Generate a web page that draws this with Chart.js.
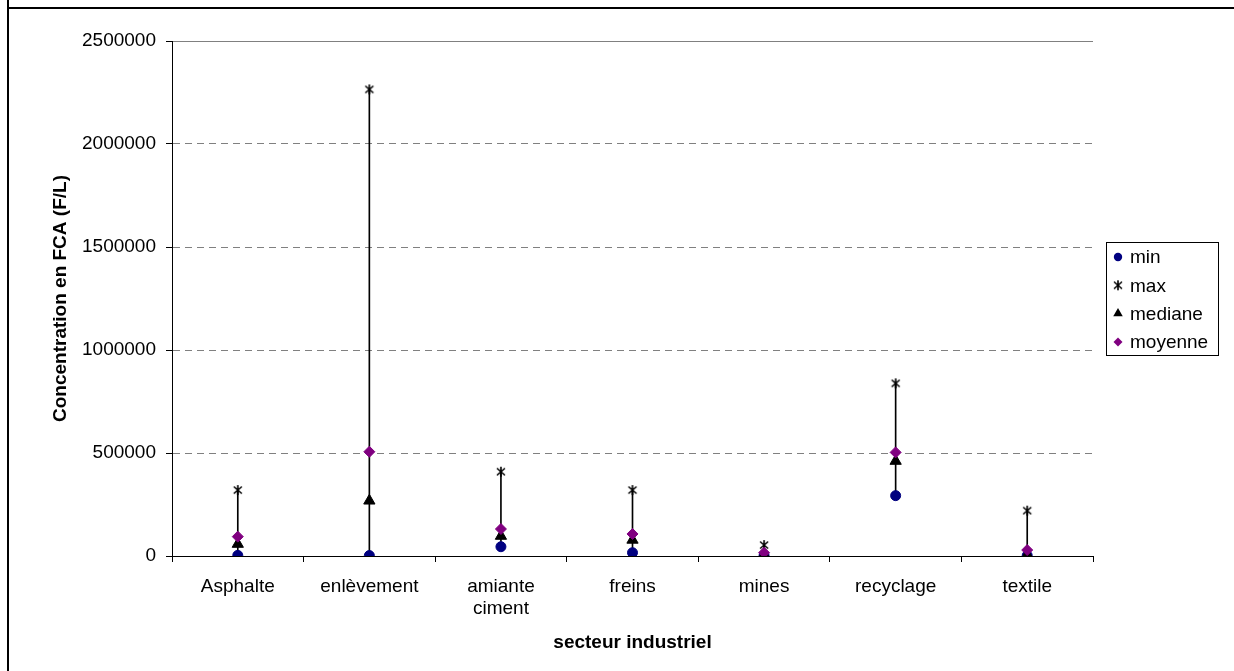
<!DOCTYPE html>
<html>
<head>
<meta charset="utf-8">
<script src="https://cdn.jsdelivr.net/npm/chart.js@4/dist/chart.umd.min.js"></script>
<style>
html, body { margin: 0; padding: 0; background: #fff; }
#wrap { position: relative; width: 1234px; height: 671px; overflow: hidden; }
#wrap canvas { position: absolute; left: 0; top: 0; }
.ln { position: absolute; background: #000; }
</style>
</head>
<body>
<div id="wrap">
  <div class="ln" style="left:7px;top:0;width:2px;height:671px"></div>
  <div class="ln" style="left:7px;top:7px;width:1227px;height:2px"></div>
  <canvas id="chart" width="1234" height="671"></canvas>
</div>
<script>
// data
var categories = ['Asphalte', 'enlèvement', ['amiante', 'ciment'], 'freins', 'mines', 'recyclage', 'textile'];
var minVals = [3000, 2000, 45000, 16000, 2000, 293000, 2000];
var maxVals = [320000, 2265000, 409000, 320000, 53000, 838000, 220000];
var medianeVals = [58000, 268000, 97000, 78000, 5000, 461000, 5000];
var moyenneVals = [94000, 506000, 131000, 107000, 16000, 503000, 29000];
var yTicks = [0, 500000, 1000000, 1500000, 2000000, 2500000];

var FONT = '"Liberation Sans", Arial, sans-serif';
Chart.defaults.font.family = FONT;
Chart.defaults.color = '#000';

// excel-like star marker: x with a vertical bar
function starMarker() {
  var c = document.createElement('canvas');
  c.width = 12; c.height = 12;
  var g = c.getContext('2d');
  g.strokeStyle = '#000';
  g.lineWidth = 1.6;
  g.beginPath();
  g.moveTo(2, 2.5); g.lineTo(10, 9.5);
  g.moveTo(10, 2.5); g.lineTo(2, 9.5);
  g.moveTo(6, 1); g.lineTo(6, 11);
  g.stroke();
  return c;
}
var star = starMarker();

function drawMarker(ctx, style, color, r, x, y) {
  ctx.fillStyle = color;
  ctx.beginPath();
  if (style === 'circle') {
    ctx.arc(x, y, r, 0, Math.PI * 2);
  } else if (style === 'triangle') {
    ctx.moveTo(x, y - r);
    ctx.lineTo(x + r * 0.866, y + r * 0.5);
    ctx.lineTo(x - r * 0.866, y + r * 0.5);
    ctx.closePath();
  } else if (style === 'rectRot') {
    ctx.moveTo(x, y - r); ctx.lineTo(x + r, y); ctx.lineTo(x, y + r); ctx.lineTo(x - r, y);
    ctx.closePath();
  } else {
    ctx.drawImage(style, x - style.width / 2, y - style.height / 2);
    return;
  }
  ctx.fill();
}

// legend box to the right of the plot
var legendBox = {
  id: 'legendBox',
  afterDraw: function (chart) {
    var ctx = chart.ctx, area = chart.chartArea;
    var w = 112, h = 113;
    var x0 = Math.round(area.right + 13), y0 = Math.round((area.top + area.bottom) / 2 - h / 2);
    ctx.save();
    ctx.strokeStyle = '#000';
    ctx.lineWidth = 1;
    ctx.strokeRect(x0 + 0.5, y0 + 0.5, w, h);
    ctx.font = '19px ' + FONT;
    ctx.textBaseline = 'middle';
    var legendSizes = { circle: 4.2, triangle: 5.5, rectRot: 4.5 };
    chart.data.datasets.forEach(function (ds, i) {
      if (ds.type !== 'line') return;
      var cy = y0 + 15 + i * 28.3;
      var r = legendSizes[ds.pointStyle] || 0;
      drawMarker(ctx, ds.pointStyle, ds.pointBackgroundColor || '#000', r, x0 + 12, cy);
      ctx.fillStyle = '#000';
      ctx.fillText(ds.label, x0 + 24, cy + 1);
    });
    ctx.restore();
  }
};

var ctx = document.getElementById('chart').getContext('2d');
var myChart = new Chart(ctx, {
  type: 'bar',
  data: {
    labels: categories,
    datasets: [
      {
        type: 'line', label: 'min', data: minVals, showLine: false,
        pointStyle: 'circle', pointRadius: 5,
        pointBackgroundColor: '#000080', pointBorderColor: '#000080', order: 4
      },
      {
        type: 'line', label: 'max', data: maxVals, showLine: false,
        pointStyle: star, pointRadius: 6, order: 3
      },
      {
        type: 'line', label: 'mediane', data: medianeVals, showLine: false,
        pointStyle: 'triangle', pointRadius: 6.5,
        pointBackgroundColor: '#000', pointBorderColor: '#000', order: 2
      },
      {
        type: 'line', label: 'moyenne', data: moyenneVals, showLine: false,
        pointStyle: 'rectRot', pointRadius: 5.5,
        pointBackgroundColor: '#800080', pointBorderColor: '#800080', order: 1
      },
      {
        // high-low line from min to max
        type: 'bar', label: 'plage',
        data: categories.map(function (c, i) { return [minVals[i], maxVals[i]]; }),
        backgroundColor: '#000', barThickness: 1, order: 5
      }
    ]
  },
  options: {
    responsive: false,
    animation: false,
    layout: { padding: { top: 41, right: 141, bottom: 0, left: 0 } },
    plugins: {
      legend: { display: false },
      tooltip: { enabled: false }
    },
    scales: {
      x: {
        offset: true,
        grid: { offset: true, drawOnChartArea: false, drawTicks: true, tickLength: 6, tickColor: '#000' },
        border: { color: '#000', width: 1 },
        ticks: { color: '#000', font: { size: 19 }, padding: 13, maxRotation: 0, autoSkip: false },
        title: {
          display: true, text: 'secteur industriel', color: '#000',
          font: { size: 19, weight: 'bold' }, padding: { top: 0, bottom: 17 }
        },
        afterFit: function (s) { s.height = 115; }
      },
      y: {
        min: 0, max: 2500000,
        afterBuildTicks: function (s) { s.ticks = yTicks.map(function (v) { return { value: v }; }); },
        ticks: { color: '#000', font: { size: 19 }, padding: 10, callback: function (v) { return String(v); } },
        grid: {
          color: function (c) { return c.tick && c.tick.value === 0 ? 'rgba(0,0,0,0)' : '#808080'; },
          tickColor: '#000', tickLength: 6, lineWidth: 1
        },
        border: {
          color: '#000', width: 1,
          dash: function (c) { return c.tick && c.tick.value !== 2500000 ? [7, 5] : []; }
        },
        title: {
          display: true, text: 'Concentration en FCA (F/L)', color: '#000',
          font: { size: 19, weight: 'bold' }, padding: { top: 49, bottom: 0 }
        },
        afterFit: function (s) { s.width = 172; }
      }
    }
  },
  plugins: [legendBox]
});
</script>
</body>
</html>
